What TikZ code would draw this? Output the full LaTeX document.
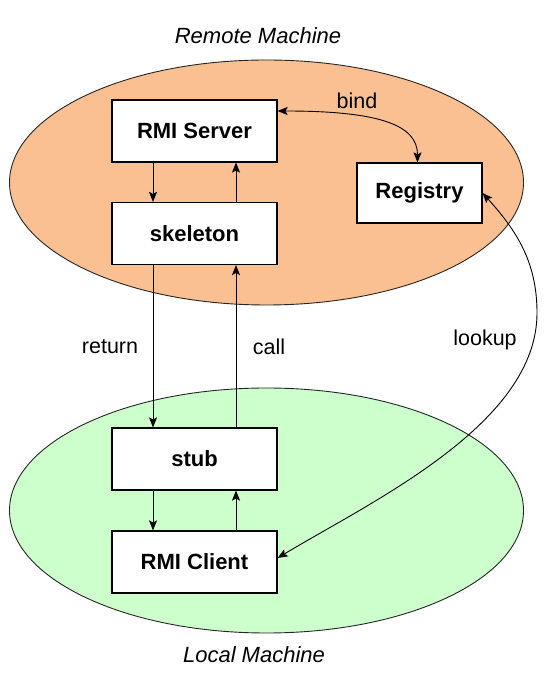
\documentclass[tikz,border=0pt]{standalone}
\usepackage{fontspec}
\setmainfont{Liberation Sans}
\usetikzlibrary{arrows.meta}
\definecolor{remotefill}{RGB}{250,192,145}
\definecolor{localfill}{RGB}{204,255,204}
\begin{document}
\begin{tikzpicture}[x=1pt,y=1pt,
  box/.style={draw=black, line width=1.2pt, fill=white, minimum width=165pt,
    minimum height=62pt, inner sep=0pt, font=\fontsize{22}{26}\selectfont\bfseries},
  lbl/.style={font=\fontsize{21.5}{26}\selectfont, inner sep=0pt},
  title/.style={font=\fontsize{22}{26}\selectfont\itshape, inner sep=0pt},
  machine/.style={draw=black!85, line width=0.9pt},
  tip/.style={Stealth[length=10pt,width=8pt,inset=2pt]},
  conn/.style={line width=0.9pt, -{Stealth[length=10pt,width=8pt,inset=2pt]}},
  biconn/.style={line width=0.9pt, {Stealth[length=10pt,width=8pt,inset=2pt]}-{Stealth[length=10pt,width=8pt,inset=2pt]}},
]
\useasboundingbox (0,0) rectangle (547,674);
\fill[white] (0,0) rectangle (547,674);
% machines
\path[machine, fill=remotefill] (266.5,491.5) ellipse [x radius=257, y radius=122.5];
\path[machine, fill=localfill] (266.5,163.5) ellipse [x radius=257, y radius=122.5];
% boxes
\node[box] (server) at (194.5,543) {RMI Server};
\node[box] (skel) at (194.5,440.5) {skeleton};
\node[box, minimum width=125pt, minimum height=60pt] (reg) at (419.5,481) {Registry};
\node[box] (stub) at (194.5,215) {stub};
\node[box] (client) at (194.5,112) {RMI Client};
% vertical connectors
\draw[conn] ([xshift=-41.5pt]server.south) -- ([xshift=-41.5pt]skel.north);
\draw[conn] ([xshift=41.5pt]skel.north) -- ([xshift=41.5pt]server.south);
\draw[conn] ([xshift=-41.5pt]skel.south) -- ([xshift=-41.5pt]stub.north);
\draw[conn] ([xshift=41.5pt]stub.north) -- ([xshift=41.5pt]skel.south);
\draw[conn] ([xshift=-41.5pt]stub.south) -- ([xshift=-41.5pt]client.north);
\draw[conn] ([xshift=41.5pt]client.north) -- ([xshift=41.5pt]stub.south);
% bind
\draw[biconn] ([yshift=20pt]server.east) to[out=0,in=90,out distance=103pt,in distance=37pt] ([xshift=-2pt]reg.north);
% lookup
\coordinate (lk) at (537,361);
\draw[biconn] (reg.east) to[out=-48,in=90,out distance=51pt,in distance=51pt] (lk)
  to[out=-90,in=31,out distance=111pt,in distance=111pt] ([yshift=4pt]client.east);
% labels
\node[lbl] (bindlbl) at (357,573) {bind};
\node[lbl] (retlbl) at (110,327) {return};
\node[lbl] (calllbl) at (269,327) {call};
\node[lbl] (lklbl) at (485,334) {lookup};
\node[title] (remote) at (258,638) {Remote Machine};
\node[title] (local) at (254,19) {Local Machine};
\end{tikzpicture}
\end{document}
